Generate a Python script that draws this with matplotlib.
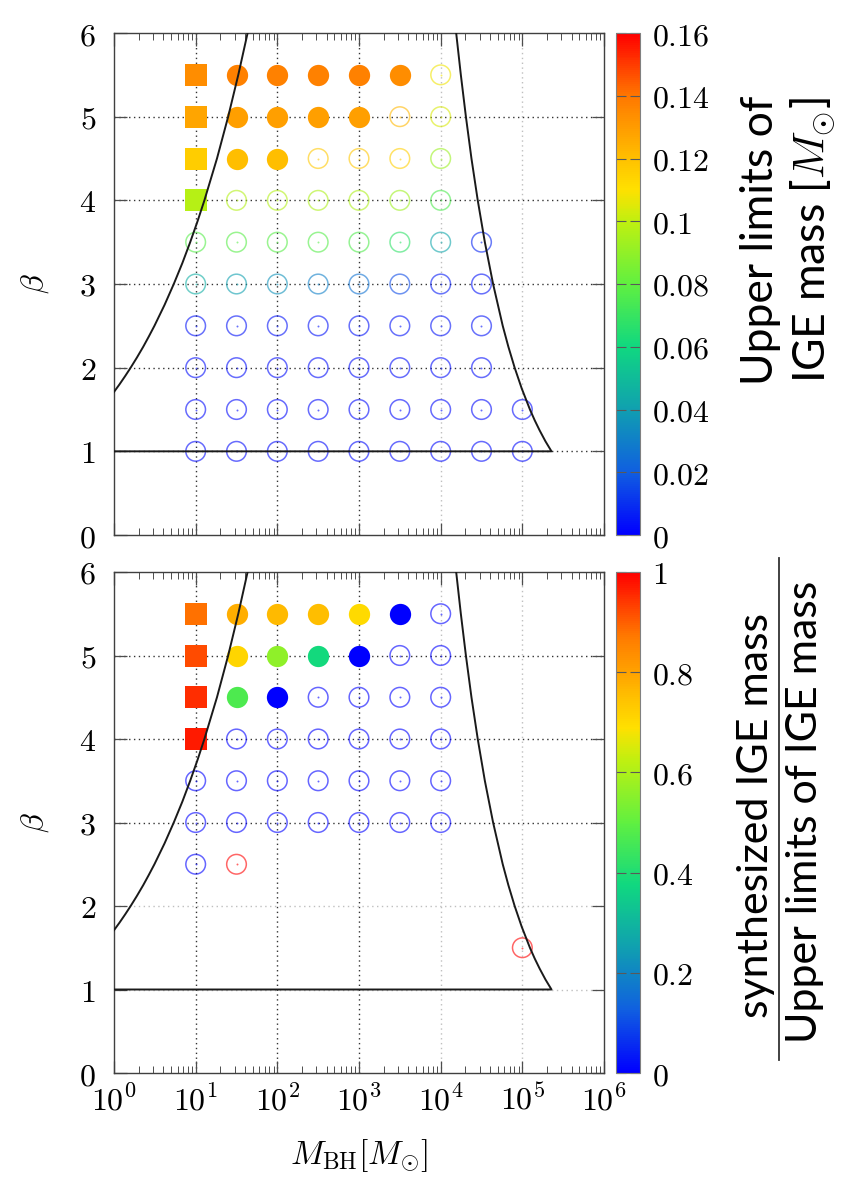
import numpy as np
import matplotlib
matplotlib.use("Agg")
from matplotlib import pyplot as plt
from matplotlib.colors import LinearSegmentedColormap, Normalize
from matplotlib.cm import ScalarMappable
from matplotlib.ticker import LogLocator, NullFormatter, FixedLocator

plt.rcParams['mathtext.fontset'] = 'cm'

# grid of simulated models: log10(M_BH) and beta
mass_exp = [1, 1.5, 2, 2.5, 3, 3.5, 4, 4.5, 5]
beta_rows = [5.5, 5.0, 4.5, 4.0, 3.5, 3.0, 2.5, 2.0, 1.5, 1.0]

# marker kind per cell: s = square, f = filled circle, o = open circle, '.' = none
top_kind = ["sfffffo..",
            "sffffoo..",
            "sffoooo..",
            "soooooo..",
            "oooooooo.",
            "oooooooo.",
            "oooooooo.",
            "oooooooo.",
            "ooooooooo",
            "ooooooooo"]
top_vals = [[0.134, 0.137, 0.137, 0.137, 0.137, 0.134, 0.108, 0, 0],
            [0.127, 0.129, 0.129, 0.129, 0.129, 0.122, 0.104, 0, 0],
            [0.116, 0.120, 0.120, 0.117, 0.118, 0.115, 0.092, 0, 0],
            [0.098, 0.097, 0.097, 0.096, 0.096, 0.093, 0.075, 0, 0],
            [0.077, 0.078, 0.078, 0.077, 0.076, 0.068, 0.042, 0.008, 0],
            [0.045, 0.040, 0.036, 0.030, 0.026, 0.016, 0.006, 0.004, 0],
            [0.004, 0.004, 0.004, 0.004, 0.004, 0.004, 0.004, 0.004, 0],
            [0.003, 0.003, 0.003, 0.003, 0.003, 0.003, 0.003, 0.003, 0],
            [0.002, 0.002, 0.002, 0.002, 0.002, 0.002, 0.002, 0.002, 0.002],
            [0.002, 0.002, 0.002, 0.002, 0.002, 0.002, 0.002, 0.002, 0.002]]

bot_kind = ["sfffffo..",
            "sffffoo..",
            "sffoooo..",
            "soooooo..",
            "ooooooo..",
            "ooooooo..",
            "oo.......",
            ".........",
            "........o",
            "........."]
bot_vals = [[0.88, 0.78, 0.76, 0.75, 0.70, 0.0, 0.0, 0, 0],
            [0.92, 0.71, 0.56, 0.38, 0.0, 0.0, 0.0, 0, 0],
            [0.95, 0.47, 0.0, 0.0, 0.0, 0.0, 0.0, 0, 0],
            [0.97, 0.0, 0.0, 0.0, 0.0, 0.0, 0.0, 0, 0],
            [0.0, 0.0, 0.0, 0.0, 0.0, 0.0, 0.0, 0, 0],
            [0.0, 0.0, 0.0, 0.0, 0.0, 0.0, 0.0, 0, 0],
            [0.0, 1.0, 0, 0, 0, 0, 0, 0, 0],
            [0, 0, 0, 0, 0, 0, 0, 0, 0],
            [0, 0, 0, 0, 0, 0, 0, 0, 1.0],
            [0, 0, 0, 0, 0, 0, 0, 0, 0]]

# boundary curves (log10 M_BH, beta)
left_mexp = [0.0, 0.067, 0.137, 0.204, 0.280, 0.358, 0.425, 0.495, 0.619, 0.732,
             0.837, 0.933, 1.023, 1.107, 1.261, 1.398, 1.522, 1.636]
left_beta = [1.71, 1.80, 1.90, 2.0, 2.12, 2.25, 2.37, 2.5, 2.75, 3.0,
             3.25, 3.5, 3.75, 4.0, 4.5, 5.0, 5.5, 6.0]
right_mexp = [4.190, 4.247, 4.309, 4.377, 4.454, 4.541, 4.642, 4.760, 4.829, 4.906,
              4.993, 5.093, 5.152, 5.212, 5.283, 5.357, 0.0]
right_beta = [6.0, 5.5, 5.0, 4.5, 4.0, 3.5, 3.0, 2.5, 2.25, 2.0,
              1.75, 1.5, 1.37, 1.25, 1.12, 1.0, 1.0]

cmap = LinearSegmentedColormap.from_list("gp", [
    (0.0, "#0000ff"), (0.125, "#1060e0"), (0.25, "#10a0b0"), (0.375, "#10d880"),
    (0.5, "#60f040"), (0.625, "#c0f010"), (0.69, "#ffe000"), (0.75, "#ffc000"),
    (0.875, "#ff7800"), (1.0, "#ff0000")])

W, H = 843, 1181
fig = plt.figure(figsize=(W / 100, H / 100), dpi=100)


def px_axes(x0, y0, x1, y1):
    return fig.add_axes([x0 / W, 1 - y1 / H, (x1 - x0) / W, (y1 - y0) / H])


def draw_panel(ax, kinds, vals, vmax, light_v, light_h):
    norm = Normalize(0, vmax)
    ax.set_xscale('log')
    ax.set_xlim(1, 1e6)
    ax.set_ylim(0, 6)

    # grid
    for i in range(1, 6):
        c = '0.75' if i in light_v else '0.2'
        ax.axvline(10 ** i, color=c, ls=(0, (1, 2.5)), lw=1.0, zorder=0)
    for j in range(1, 6):
        c = '0.75' if j in light_h else '0.2'
        ax.axhline(j, color=c, ls=(0, (1, 2.5)), lw=1.0, zorder=0)

    for r, b in enumerate(beta_rows):
        for c, m in enumerate(mass_exp):
            k = kinds[r][c]
            if k == '.':
                continue
            col = cmap(norm(vals[r][c]))
            x = 10 ** m
            if k == 's':
                ax.scatter([x], [b], marker='s', s=250, color=col, lw=0, zorder=3)
            elif k == 'f':
                ax.scatter([x], [b], marker='o', s=235, color=col, lw=0, zorder=3)
            else:
                ax.scatter([x], [b], marker='o', s=200, facecolors='none',
                           edgecolors=[col], lw=1.1, alpha=0.6, zorder=3)
                ax.scatter([x], [b], marker='o', s=2, color=col, lw=0, alpha=0.6, zorder=3)

    ax.plot(10 ** np.array(left_mexp), left_beta, color='0.1', lw=1.4, zorder=4)
    ax.plot(10 ** np.array(right_mexp), right_beta, color='0.1', lw=1.4, zorder=4)

    ax.xaxis.set_major_locator(FixedLocator([10 ** i for i in range(7)]))
    ax.xaxis.set_minor_locator(LogLocator(base=10, subs=range(2, 10), numticks=20))
    ax.xaxis.set_minor_formatter(NullFormatter())
    ax.set_yticks(range(7))
    ax.set_yticklabels([r'$%d$' % i for i in range(7)], fontsize=23)
    ax.tick_params(which='both', direction='in', top=True, right=True, color='0.3')
    ax.tick_params(which='major', length=9, width=0.9, pad=13)
    ax.tick_params(which='minor', length=5, width=0.7)
    ax.tick_params(axis='x', pad=9)
    for sp in ax.spines.values():
        sp.set_color('0.25')
        sp.set_linewidth(1.0)
    ax.set_ylabel(r'$\beta$', fontsize=23, labelpad=20)
    return norm


def draw_cbar(cax, norm, ticks, labels):
    cb = fig.colorbar(ScalarMappable(norm=norm, cmap=cmap), cax=cax)
    cb.set_ticks(ticks)
    cb.set_ticklabels(labels, fontsize=23)
    cax.tick_params(direction='in', left=True, right=True, length=7, width=0.8,
                    color='0.35', pad=9)
    cb.outline.set_edgecolor('0.5')
    cb.outline.set_linewidth(0.8)


ax1 = px_axes(114, 33, 604, 535)
n1 = draw_panel(ax1, top_kind, top_vals, 0.16, light_v=[4, 5], light_h=[])
ax1.set_xticklabels([])

ax2 = px_axes(114, 572, 604, 1073)
n2 = draw_panel(ax2, bot_kind, bot_vals, 1.0, light_v=[4, 5], light_h=[1, 2])
ax2.set_xticklabels([r'$10^{%d}$' % i for i in range(7)], fontsize=23)
ax2.set_xlabel(r'$M_{\rm BH}[M_{\odot}]$', fontsize=24, labelpad=14)

cax1 = px_axes(616, 33, 640, 535)
draw_cbar(cax1, n1, [0, 0.02, 0.04, 0.06, 0.08, 0.1, 0.12, 0.14, 0.16],
          ['$0$', '$0.02$', '$0.04$', '$0.06$', '$0.08$', '$0.1$', '$0.12$', '$0.14$', '$0.16$'])
cax2 = px_axes(616, 572, 640, 1073)
draw_cbar(cax2, n2, [0, 0.2, 0.4, 0.6, 0.8, 1.0],
          ['$0$', '$0.2$', '$0.4$', '$0.6$', '$0.8$', '$1$'])

fig.text(789 / W, 1 - 240 / H, "Upper limits of\nIGE mass [$M_{\\odot}$]",
         rotation=90, ha='center', va='center', multialignment='center',
         fontsize=32, family='Lato', linespacing=1.2)
fig.text(756 / W, 1 - 815 / H, "synthesized IGE mass", rotation=90,
         ha='center', va='center', fontsize=31, family='Lato')
fig.text(805 / W, 1 - 812 / H, "Upper limits of IGE mass", rotation=90,
         ha='center', va='center', fontsize=31, family='Lato')
fig.add_artist(plt.Line2D([779 / W, 779 / W], [1 - 558 / H, 1 - 1060 / H],
                          color='0.2', lw=1.3))

fig.savefig("out.png", dpi=100)
